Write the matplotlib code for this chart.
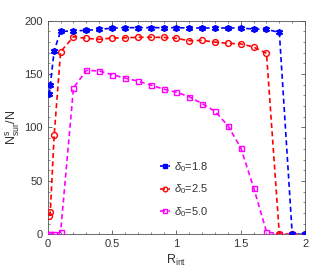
import matplotlib
matplotlib.use("Agg")
import matplotlib.pyplot as plt
from matplotlib.ticker import MultipleLocator

plt.rcParams['font.family'] = ['Liberation Sans', 'DejaVu Sans']
plt.rcParams['mathtext.fontset'] = 'custom'
plt.rcParams['mathtext.rm'] = 'Liberation Sans'
plt.rcParams['mathtext.it'] = 'Liberation Sans:italic'

r_int = [0.01, 0.02, 0.05, 0.1, 0.2, 0.3, 0.4, 0.5, 0.6, 0.7, 0.8, 0.9, 1.0,
         1.1, 1.2, 1.3, 1.4, 1.5, 1.6, 1.7, 1.8, 1.9, 2.0]
n_d18 = [131, 140, 172, 190, 190.5, 191, 192, 193, 193.5, 193.5, 193.5, 193.5, 193.5,
         193.2, 193.2, 193.2, 193.2, 193.2, 192.2, 192, 189, 0, 0]
n_d25 = [17, 21, 93, 171, 185, 183.5, 182.6, 183.8, 184, 184.5, 184.5, 184.4, 183.5,
         181.3, 181.6, 180, 178.8, 178.3, 175.4, 169.5, 0, 0, 0]
n_d50 = [0, 0, 0, 2, 137, 153.5, 153, 149.5, 146.3, 143.5, 139.8, 136, 133,
         128.8, 122.3, 115.2, 101.7, 81, 43.6, 2.4, 0, 0, 0]
labels = [r'$\delta_0$=1.8', r'$\delta_0$=2.5', r'$\delta_0$=5.0']

fig = plt.figure(figsize=(3.27, 2.73), dpi=100)
ax = fig.add_axes([0.146, 0.142, 0.787, 0.782])

txt = '#333333'
dash = (0, (3, 2))
l1, = ax.plot(r_int, n_d18, color='#0000ff', ls=dash, lw=1.2, marker='s', ms=3.0,
              mfc='#0000ff', mec='#0000ff', zorder=5, label=labels[0])
ax.plot(r_int, n_d18, ls='none', marker=(6, 2, 0), ms=5, mec='#0000ff', mew=1.1, zorder=6)
l2, = ax.plot(r_int, n_d25, color='#ff0000', ls=dash, lw=1.2, marker='o', ms=4.2,
              mfc='none', mec='#ff0000', mew=1.0, zorder=4, label=labels[1])
l3, = ax.plot(r_int, n_d50, color='#ff00ff', ls=dash, lw=1.2, marker='s', ms=3.6,
              mfc='none', mec='#ff00ff', mew=1.0, zorder=3, label=labels[2])

ax.set_xlim(0, 2)
ax.set_ylim(0, 200)
ax.xaxis.set_major_locator(MultipleLocator(0.5))
ax.xaxis.set_minor_locator(MultipleLocator(0.1))
ax.yaxis.set_major_locator(MultipleLocator(50))
ax.yaxis.set_minor_locator(MultipleLocator(10))
ax.set_xticks([0, 0.5, 1, 1.5, 2])
ax.set_xticklabels(['0', '0.5', '1', '1.5', '2'])
ax.tick_params(which='both', direction='in', top=True, right=True, colors='#555555',
               labelcolor=txt, labelsize=8)
ax.tick_params(which='major', length=3, width=0.6)
ax.tick_params(which='minor', length=1.5, width=0.5)
for s in ax.spines.values():
    s.set_color('#555555')
    s.set_linewidth(0.6)

ax.set_xlabel(r'R$_{\rm int}$', fontsize=9, color=txt, labelpad=3)
ax.set_ylabel(r'N$^{\rm s}_{\rm sur}$/N', fontsize=9, color=txt, labelpad=2)

leg = ax.legend(handles=[l1, l2, l3], loc='lower left', bbox_to_anchor=(0.42, 0.05),
                frameon=False, fontsize=8, handlelength=0.9, handletextpad=0.3,
                labelspacing=0.8, labelcolor=txt, borderaxespad=0, markerscale=0.8)

fig.savefig('out.png', dpi=100)
